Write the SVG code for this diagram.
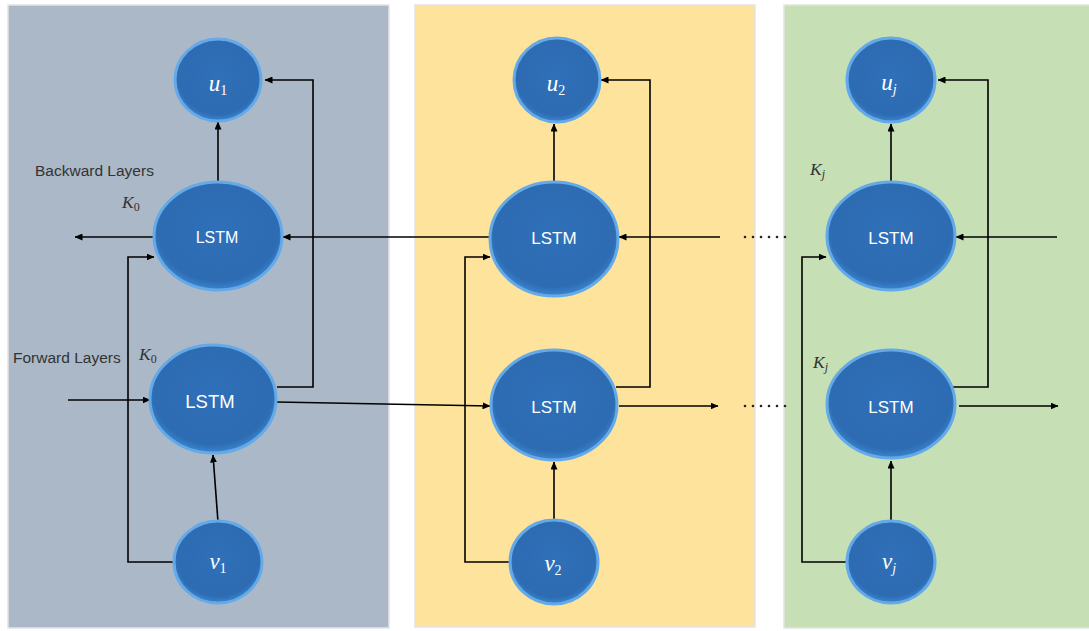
<svg xmlns="http://www.w3.org/2000/svg" width="1089" height="631" viewBox="0 0 1089 631">
<defs>
<marker id="arr" markerUnits="userSpaceOnUse" markerWidth="8" markerHeight="7" refX="7.5" refY="3.5" orient="auto">
<path d="M0,0 L8,3.5 L0,7 z" fill="#000"/>
</marker>
<radialGradient id="blue" cx="50%" cy="45%" r="55%">
<stop offset="0%" stop-color="#2f70b8"/>
<stop offset="85%" stop-color="#2d6bb2"/>
<stop offset="100%" stop-color="#3a86d0"/>
</radialGradient>
</defs>
<style>
.panel{stroke:#e4e4e4;stroke-width:1.5}
.node{fill:url(#blue);stroke:#64a9e8;stroke-width:3}
.edge{fill:none;stroke:#000;stroke-width:1.6;marker-end:url(#arr)}
.lstm{font-family:"Liberation Sans",Arial,sans-serif;fill:#fff;text-anchor:middle}
.math{font-family:"Liberation Serif","Times New Roman",serif;fill:#fff;text-anchor:middle;font-size:23px}
.k{font-family:"Liberation Serif","Times New Roman",serif;fill:#333;font-size:17.5px}
.lbl{font-family:"Liberation Sans",Arial,sans-serif;fill:#333;font-size:15.5px}
.dot{fill:#222}
</style>
<rect width="1089" height="631" fill="#ffffff"/>
<rect class="panel" x="8" y="5" width="381" height="623" fill="#abb8c7"/>
<rect class="panel" x="415" y="5" width="340" height="622" fill="#fde39c"/>
<rect class="panel" x="784" y="5" width="306" height="623" fill="#c6dfb4"/>

<g id="connectors">
<path class="edge" d="M218,182 V122"/>
<path class="edge" d="M153,237 H75"/>
<path class="edge" d="M490,237 H283"/>
<path class="edge" d="M277,387 H313 V80 H265"/>
<path class="edge" d="M277,402 L490,406"/>
<path class="edge" d="M68,400 H150"/>
<path class="edge" d="M218,522 L213,455"/>
<path class="edge" d="M174,562 H128 V257 H154"/>

<path class="edge" d="M554,182 V124"/>
<path class="edge" d="M720,237 H619"/>
<path class="edge" d="M616,387 H650 V80 H601"/>
<path class="edge" d="M619,406 H718"/>
<path class="edge" d="M554,520 V462"/>
<path class="edge" d="M510,562 H465 V257 H490"/>

<path class="edge" d="M891,182 V124"/>
<path class="edge" d="M1057,237 H956"/>
<path class="edge" d="M951,387 H988 V80 H938"/>
<path class="edge" d="M959,406 H1058"/>
<path class="edge" d="M891,520 V461"/>
<path class="edge" d="M847,562 H802 V257 H826"/>

<g id="dots-back">
<circle class="dot" cx="745" cy="237" r="1.3"/><circle class="dot" cx="753" cy="237" r="1.3"/><circle class="dot" cx="761" cy="237" r="1.3"/><circle class="dot" cx="769" cy="237" r="1.3"/><circle class="dot" cx="777" cy="237" r="1.3"/><circle class="dot" cx="785" cy="237" r="1.3"/>
</g>
<g id="dots-fwd">
<circle class="dot" cx="745" cy="406" r="1.3"/><circle class="dot" cx="753" cy="406" r="1.3"/><circle class="dot" cx="761" cy="406" r="1.3"/><circle class="dot" cx="769" cy="406" r="1.3"/><circle class="dot" cx="777" cy="406" r="1.3"/><circle class="dot" cx="785" cy="406" r="1.3"/>
</g>
</g>

<g id="u1"><ellipse class="node" cx="218" cy="80" rx="43" ry="41"/><text class="math" x="218" y="91"><tspan font-style="italic">u</tspan><tspan font-size="14" dy="4">1</tspan></text></g>
<g id="lstm-back-1"><ellipse class="node" cx="218" cy="236" rx="64" ry="54"/><text class="lstm" x="217" y="243" font-size="16">LSTM</text></g>
<g id="lstm-fwd-1"><ellipse class="node" cx="213" cy="399" rx="63" ry="54"/><text class="lstm" x="210" y="408" font-size="18.5">LSTM</text></g>
<g id="v1"><ellipse class="node" cx="218" cy="562" rx="44" ry="41"/><text class="math" x="218" y="569"><tspan font-style="italic">v</tspan><tspan font-size="14" dy="4">1</tspan></text></g>

<g id="u2"><ellipse class="node" cx="557" cy="80" rx="43" ry="42"/><text class="math" x="556" y="91"><tspan font-style="italic">u</tspan><tspan font-size="14" dy="4">2</tspan></text></g>
<g id="lstm-back-2"><ellipse class="node" cx="554" cy="239" rx="64" ry="57"/><text class="lstm" x="554" y="244" font-size="17">LSTM</text></g>
<g id="lstm-fwd-2"><ellipse class="node" cx="554" cy="405" rx="63" ry="55"/><text class="lstm" x="554" y="413" font-size="17">LSTM</text></g>
<g id="v2"><ellipse class="node" cx="554" cy="562" rx="44" ry="42"/><text class="math" x="553" y="571"><tspan font-style="italic">v</tspan><tspan font-size="14" dy="4">2</tspan></text></g>

<g id="uj"><ellipse class="node" cx="891" cy="80" rx="44" ry="42"/><text class="math" x="889" y="90"><tspan font-style="italic">u</tspan><tspan font-size="14" dy="4" font-style="italic">j</tspan></text></g>
<g id="lstm-back-j"><ellipse class="node" cx="891" cy="236" rx="64" ry="54"/><text class="lstm" x="891" y="244" font-size="17">LSTM</text></g>
<g id="lstm-fwd-j"><ellipse class="node" cx="891" cy="404" rx="64" ry="54"/><text class="lstm" x="891" y="413" font-size="17">LSTM</text></g>
<g id="vj"><ellipse class="node" cx="891" cy="562" rx="44" ry="41"/><text class="math" x="889" y="569"><tspan font-style="italic">v</tspan><tspan font-size="14" dy="4" font-style="italic">j</tspan></text></g>

<g id="labels">
<text class="lbl" x="35" y="176">Backward Layers</text>
<text class="lbl" x="13" y="363">Forward Layers</text>
<text class="k" x="122" y="208"><tspan font-style="italic">K</tspan><tspan font-size="12" dy="3">0</tspan></text>
<text class="k" x="139" y="360"><tspan font-style="italic">K</tspan><tspan font-size="12" dy="3">0</tspan></text>
<text class="k" x="810" y="175"><tspan font-style="italic">K</tspan><tspan font-size="12" dy="3" font-style="italic">j</tspan></text>
<text class="k" x="813" y="368"><tspan font-style="italic">K</tspan><tspan font-size="12" dy="3" font-style="italic">j</tspan></text>
</g>
</svg>
